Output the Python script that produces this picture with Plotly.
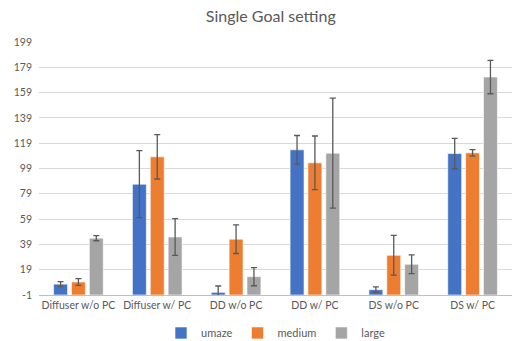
import plotly.graph_objects as go

categories = ["Diffuser w/o PC", "Diffuser w/ PC", "DD w/o PC", "DD w/ PC", "DS w/o PC", "DS w/ PC"]
umaze = [7.6, 86.6, 1.1, 113.8, 3.2, 110.8]
umaze_err = [2.0, 26.5, 5.0, 11.3, 2.2, 12.0]
medium = [9.3, 108.2, 43.1, 103.5, 30.4, 111.4]
medium_err = [2.7, 17.5, 11.3, 21.2, 15.7, 2.6]
large = [43.9, 44.9, 13.5, 111.1, 23.3, 171.3]
large_err = [2.0, 14.5, 7.2, 43.5, 7.4, 13.2]
y_ticks = [-1, 19, 39, 59, 79, 99, 119, 139, 159, 179, 199]

series = [
    ("umaze", umaze, umaze_err, "#4472C4"),
    ("medium", medium, medium_err, "#ED7D31"),
    ("large", large, large_err, "#A5A5A5"),
]

fig = go.Figure()
for name, vals, errs, color in series:
    fig.add_trace(go.Bar(
        name=name, x=categories, y=[v + 1 for v in vals], base=-1,
        marker=dict(color=color, line=dict(color="rgba(255,255,255,0.6)", width=1)),
        error_y=dict(type="data", array=errs, color="#595959", thickness=1.3, width=3),
    ))

fig.update_layout(
    width=515, height=341,
    margin=dict(l=39, r=3, t=42, b=46, autoexpand=False),
    paper_bgcolor="white", plot_bgcolor="white",
    font=dict(family="Lato", size=10, color="#595959"),
    title=dict(text="Single Goal setting", xref="paper", x=0.49, xanchor="center",
               yref="container", y=1 - 16 / 341, yanchor="middle",
               font=dict(size=16, color="#595959"), automargin=False),
    barmode="group", bargap=0.32, bargroupgap=0.22,
    legend=dict(orientation="h", x=0.5, xanchor="center", y=-0.15, yanchor="middle",
                font=dict(size=11), itemwidth=30, traceorder="normal"),
    xaxis=dict(showline=True, linecolor="#BFBFBF", linewidth=1, ticks="", tickfont=dict(size=10.5),
               automargin=False),
    yaxis=dict(range=[-1, 199], tickvals=y_ticks, ticktext=[str(t) for t in y_ticks],
               showgrid=True, gridcolor="#D9D9D9", gridwidth=1, zeroline=False,
               ticklabelstandoff=6, tickfont=dict(size=10.5), automargin=False),
)

fig.write_html("out.html", config={"displayModeBar": False},
               post_script="document.body.style.margin='0';")
